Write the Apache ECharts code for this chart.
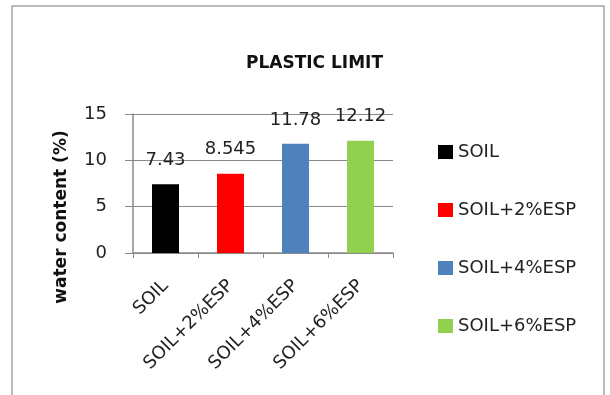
<!DOCTYPE html>
<html>
<head>
<meta charset="utf-8">
<script src="https://cdn.jsdelivr.net/npm/echarts@6/dist/echarts.min.js"></script>
<style>
  html, body { margin: 0; padding: 0; background: #fff; }
  #myChart { width: 610px; height: 395px; }
</style>
</head>
<body>
<div id="myChart"></div>
<script>
// data
var categories = ['SOIL', 'SOIL+2%ESP', 'SOIL+4%ESP', 'SOIL+6%ESP'];
var values = [7.43, 8.545, 11.78, 12.12];
var colors = ['#000000', '#ff0000', '#4f81bd', '#92d050'];
var yTicks = [0, 15, 5];   // min, max, interval

var font = 'DejaVu Sans';

// one series per category so the legend lists every bar
var series = categories.map(function (name, i) {
    var data = categories.map(function (c, j) { return j === i ? values[i] : '-'; });
    return {
        name: name,
        type: 'bar',
        stack: 'all',
        barWidth: 27,
        itemStyle: { color: colors[i] },
        label: {
            show: true,
            position: 'top',
            distance: 15,
            fontFamily: font,
            fontSize: 18,
            color: '#222'
        },
        data: data
    };
});

var myChart = echarts.init(document.getElementById('myChart'));
myChart.setOption({
    animation: false,
    title: {
        text: 'PLASTIC LIMIT',
        left: 241,
        top: 50,
        textStyle: { fontFamily: font, fontSize: 17, fontWeight: 'bold', color: '#111' }
    },
    // outer chart frame
    graphic: [{
        type: 'rect',
        shape: { x: 12, y: 6, width: 592, height: 420 },
        style: { fill: 'none', stroke: '#a6a6a6', lineWidth: 1.5 },
        silent: true
    }],
    legend: {
        orient: 'vertical',
        left: 433,
        top: 138,
        icon: 'rect',
        itemWidth: 15,
        itemHeight: 14,
        itemGap: 40,
        textStyle: { fontFamily: font, fontSize: 18, color: '#222', lineHeight: 18 },
        data: categories
    },
    grid: { left: 133, right: 217, top: 114, bottom: 142 },
    xAxis: {
        type: 'category',
        data: categories,
        axisLine: { lineStyle: { color: '#888', width: 1.5 } },
        axisTick: { show: true, length: 5, lineStyle: { color: '#888' } },
        axisLabel: {
            rotate: 45,
            margin: 30,
            fontFamily: font,
            fontSize: 18,
            color: '#222'
        }
    },
    yAxis: {
        type: 'value',
        min: yTicks[0],
        max: yTicks[1],
        interval: yTicks[2],
        name: 'water content (%)',
        nameLocation: 'middle',
        nameGap: 63,
        nameTextStyle: {
            fontFamily: font, fontSize: 17, fontWeight: 'bold', color: '#111',
            padding: [0, 67, 0, 0]
        },
        axisLine: { show: true, lineStyle: { color: '#888', width: 1.5 } },
        axisTick: { show: true, length: 8, lineStyle: { color: '#888' } },
        splitLine: { lineStyle: { color: '#888', width: 1.2 } },
        axisLabel: {
            margin: 26,
            fontFamily: font,
            fontSize: 18,
            color: '#222'
        }
    },
    series: series
});
</script>
</body>
</html>
